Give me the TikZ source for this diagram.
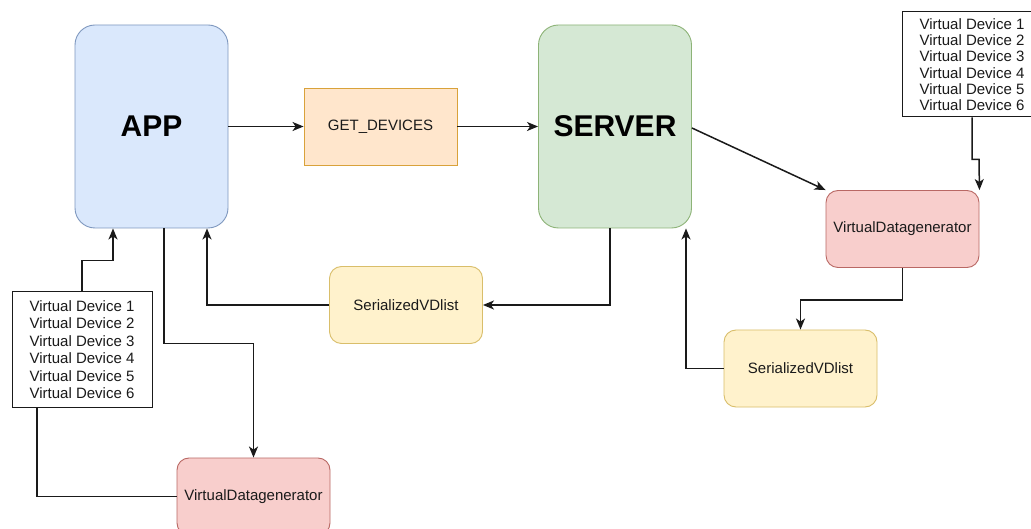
\documentclass[tikz,border=0pt]{standalone}
\usepackage{fontspec}
\setmainfont{Liberation Sans}
\usetikzlibrary{arrows.meta}
\definecolor{appfill}{HTML}{DAE8FC}\definecolor{appline}{HTML}{7F98BF}
\definecolor{srvfill}{HTML}{D5E8D4}\definecolor{srvline}{HTML}{8DB377}
\definecolor{getfill}{HTML}{FFE6CC}\definecolor{getline}{HTML}{D9A23A}
\definecolor{vdgfill}{HTML}{F8CECC}\definecolor{vdgline}{HTML}{B96864}
\definecolor{svdfill}{HTML}{FFF2CC}\definecolor{svdline}{HTML}{D9BE6A}
\definecolor{ink}{HTML}{1A1A1A}
\tikzset{
  lbl/.style={font=\fontsize{15}{17}\selectfont, text=ink, inner sep=0pt},
  bigbox/.style={rounded corners=20pt, line width=0.9pt, minimum width=153pt, minimum height=203pt, font=\fontsize{30}{34}\selectfont\bfseries, text=black, inner sep=0pt},
  smallbox/.style={lbl, line width=0.9pt, minimum width=153pt, minimum height=77pt},
  listbox/.style={lbl, draw=ink, fill=white, line width=1pt, align=center, minimum width=140pt},
  conn/.style={draw=ink, line width=1.5pt},
  arr/.style={conn, -{Stealth[length=11pt,width=9pt,inset=3pt]}}
}
\begin{document}
\begin{tikzpicture}[x=1pt,y=-1pt]
\useasboundingbox (0,0) rectangle (1031,529);
\clip (0,0) rectangle (1031,529);
\fill[white] (0,0) rectangle (1031,529);

\node[bigbox, fill=appfill, draw=appline] (app) at (151.5,126.5) {APP};
\node[bigbox, fill=srvfill, draw=srvline] (srv) at (615,126.5) {SERVER};
\node[smallbox, fill=getfill, draw=getline] (get) at (380.5,126.5) {GET\_DEVICES};
\node[smallbox, rounded corners=12pt, fill=vdgfill, draw=vdgline] (vdgR) at (902.5,229) {VirtualDatagenerator};
\node[smallbox, rounded corners=12pt, fill=svdfill, draw=svdline] (svdM) at (406,305) {SerializedVDlist};
\node[smallbox, rounded corners=12pt, fill=svdfill, draw=svdline] (svdR) at (800.5,368.5) {SerializedVDlist};
\node[smallbox, rounded corners=12pt, fill=vdgfill, draw=vdgline] (vdgB) at (253.5,496.5) {VirtualDatagenerator};

\node[listbox, font=\fontsize{15}{17.5}\selectfont, minimum height=115pt] (lstL) at (82,349.5)
  {Virtual Device 1\\Virtual Device 2\\Virtual Device 3\\Virtual Device 4\\Virtual Device 5\\Virtual Device 6};
\node[listbox, font=\fontsize{15}{16.3}\selectfont, minimum height=105pt] (lstR) at (972,64.5)
  {Virtual Device 1\\Virtual Device 2\\Virtual Device 3\\Virtual Device 4\\Virtual Device 5\\Virtual Device 6};

\draw[arr] (app.east) -- (get.west);
\draw[arr] (get.east) -- (srv.west);
\draw[arr] ([yshift=-1.5pt]srv.east) -- (vdgR.north west);
\draw[arr] (lstR.south) -- ++(0,42) -- ++(7,0) -- (vdgR.north east);
\draw[arr] (vdgR.south) -- ++(0,32) -| (svdR.north);
\draw[arr] (svdR.west) -| ([xshift=71pt]srv.south);
\draw[arr] ([xshift=-5pt]srv.south) |- (svdM.east);
\draw[arr] (svdM.west) -| ([xshift=55.5pt]app.south);
\draw[arr] (lstL.north) -- ++(0,-31) -| ([xshift=-38.5pt]app.south);
\draw[arr] ([xshift=12.5pt]app.south) -- ++(0,115) -| (vdgB.north);
\draw[conn] ([xshift=-45pt]lstL.south) |- (vdgB.west);
\end{tikzpicture}
\end{document}
